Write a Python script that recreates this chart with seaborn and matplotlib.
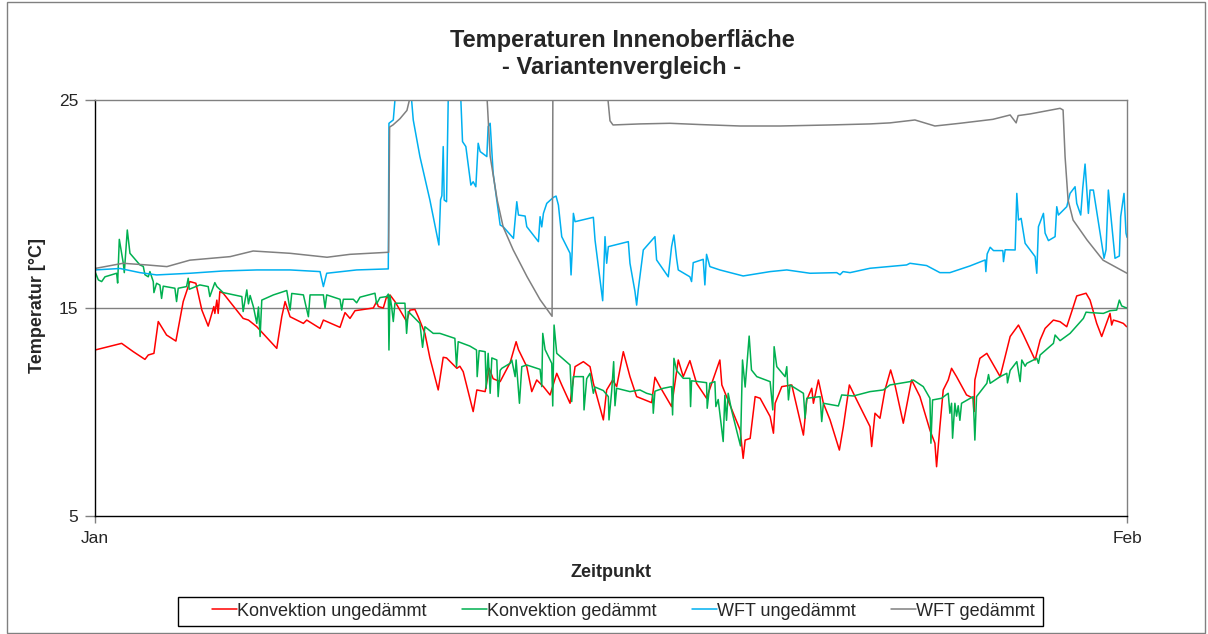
import matplotlib
matplotlib.use("Agg")
import matplotlib.pyplot as plt
import seaborn as sns
import pandas as pd
from matplotlib.lines import Line2D
from matplotlib.patches import Rectangle

# ---------------- data (days since 1 Jan, temperature in °C) ----------------
series_names = ["Konvektion ungedämmt", "Konvektion gedämmt", "WFT ungedämmt", "WFT gedämmt"]
series_colors = ["#FF0000", "#00B050", "#00B0F0", "#808080"]
x_tick_pos = [0, 31]
x_tick_labels = ["Jan", "Feb"]
y_ticks = [5, 15, 25]

tage_rot = [0.00, 0.80, 1.15, 1.50, 1.60, 1.77, 1.90, 2.15, 2.43, 2.65, 2.85, 3.03, 3.21, 3.40, 3.57, 3.60,
            3.66, 3.70, 3.75, 3.85, 4.45, 4.61, 4.86, 5.46, 5.61, 5.71, 5.86, 6.26, 6.36, 6.76, 6.86, 7.36,
            7.51, 7.66, 7.81, 8.36, 8.46, 8.51, 8.66, 8.76, 8.81, 8.86, 9.01, 9.36, 9.46, 9.61, 9.71, 9.91,
            10.06, 10.31, 10.46, 10.56, 10.87, 10.96, 11.06, 11.36, 11.47, 11.72, 11.84, 11.96, 12.17, 12.47,
            12.65, 12.72, 12.97, 13.12, 13.27, 13.47, 13.67, 13.87, 14.02, 14.27, 14.42, 14.67, 14.87, 14.97,
            15.27, 15.37, 15.55, 15.67, 15.87, 16.07, 16.27, 16.72, 16.82, 16.97, 17.32, 17.52, 17.67, 17.87,
            18.07, 18.37, 18.77, 18.83, 19.38, 19.47, 19.53, 19.68, 19.83, 19.98, 20.28, 20.38, 20.43, 20.63,
            20.93, 21.28, 21.38, 21.53, 21.58, 21.73, 21.88, 22.08, 22.36, 22.48, 22.66, 22.88, 23.28, 23.33,
            23.43, 23.58, 23.73, 23.90, 24.03, 24.28, 24.53, 24.78, 25.08, 25.23, 25.28, 25.38, 25.48, 25.63,
            25.73, 25.88, 26.18, 26.38, 26.40, 26.43, 26.58, 26.79, 27.19, 27.49, 27.74, 27.89, 28.24, 28.39,
            28.54, 28.79, 28.99, 29.19, 29.34, 29.49, 29.77, 29.89, 30.09, 30.24, 30.49, 30.54, 30.59, 30.74,
            30.89, 30.99]
temp_rot = [12.98, 13.30, 12.90, 12.53, 12.74, 12.82, 14.35, 13.70, 13.41, 15.31, 16.27, 16.19, 14.90, 14.13, 15.07, 14.74,
            15.38, 14.74, 15.79, 15.71, 14.50, 14.42, 14.10, 13.06, 14.58, 15.31, 14.58, 14.26, 14.42, 14.02, 14.42, 14.07,
            14.78, 14.50, 14.87, 15.00, 15.31, 15.07, 15.00, 15.55, 15.47, 15.63, 15.31, 14.35, 14.90, 14.93, 14.58, 13.78,
            12.60, 11.06, 12.63, 12.60, 12.10, 12.20, 11.94, 10.02, 11.06, 10.98, 12.10, 11.60, 11.46, 12.37,
            13.38, 13.00, 12.18, 10.98, 11.54, 11.22, 10.82, 11.86, 11.30, 10.42, 12.18, 12.42, 12.18, 11.38,
            9.62, 11.06, 11.54, 11.22, 12.90, 11.70, 10.74, 10.45, 11.67, 11.22, 10.26, 12.50, 11.70, 12.47,
            11.38, 10.66, 12.50, 11.30, 9.13, 7.77, 8.65, 8.73, 10.74, 10.66, 9.78, 8.98, 10.42, 11.22,
            11.30, 8.89, 10.58, 11.14, 10.42, 11.54, 10.42, 9.62, 8.17, 9.30, 11.30, 10.58, 9.30, 8.34,
            9.94, 9.70, 11.06, 12.02, 11.30, 9.46, 11.54, 10.74, 9.13, 8.50, 7.37, 9.30, 11.06, 11.54,
            12.10, 11.70, 10.82, 10.66, 10.02, 11.54, 12.58, 12.82, 11.70, 13.63, 14.18, 13.70, 12.50, 13.46,
            14.02, 14.42, 14.34, 14.10, 14.83, 15.58, 15.71, 15.38, 14.26, 13.63, 14.74, 14.18, 14.42, 14.35,
            14.26, 14.10]

tage_gruen = [0.00, 0.10, 0.20, 0.30, 0.65, 0.68, 0.73, 0.85, 0.88, 0.97, 1.05, 1.35, 1.45, 1.50, 1.60, 1.65,
              1.75, 1.77, 1.85, 1.95, 2.00, 2.05, 2.40, 2.45, 2.50, 2.75, 2.80, 2.83, 3.15, 3.40, 3.45, 3.60,
              3.66, 3.85, 4.41, 4.45, 4.56, 4.61, 4.66, 4.76, 4.86, 4.91, 4.96, 5.01, 5.36, 5.76, 5.86, 5.91,
              6.26, 6.41, 6.46, 6.86, 6.91, 6.96, 7.36, 7.41, 7.46, 7.76, 7.86, 7.96, 8.41, 8.46, 8.56, 8.76,
              8.81, 8.83, 8.86, 8.91, 8.96, 9.01, 9.31, 9.36, 9.41, 9.76, 9.84, 9.91, 10.16, 10.36, 10.81, 10.86,
              10.91, 11.26, 11.46, 11.48, 11.54, 11.72, 11.75, 11.81, 11.87, 11.92, 12.07, 12.11, 12.17, 12.22,
              12.47, 12.52, 12.62, 12.65, 12.75, 12.82, 12.97, 13.37, 13.42, 13.45, 13.52, 13.72, 13.75, 13.79,
              13.87, 14.27, 14.32, 14.37, 14.67, 14.69, 14.77, 14.87, 14.97, 15.02, 15.27, 15.42, 15.44, 15.52,
              15.58, 15.62, 15.67, 16.07, 16.37, 16.57, 16.75, 16.77, 16.82, 17.07, 17.32, 17.35, 17.39, 17.47,
              17.67, 17.87, 17.89, 17.92, 18.37, 18.39, 18.47, 18.62, 18.65, 18.72, 18.87, 18.92, 18.97, 19.02,
              19.12, 19.39, 19.45, 19.53, 19.65, 19.72, 19.88, 20.28, 20.36, 20.40, 20.48, 20.73, 20.78, 20.83,
              20.88, 21.28, 21.33, 21.38, 21.78, 21.83, 21.88, 22.33, 22.43, 22.78, 23.28, 23.68, 23.88, 24.48,
              24.58, 24.88, 25.08, 25.11, 25.16, 25.43, 25.63, 25.68, 25.73, 25.76, 25.83, 25.88, 25.93, 25.98,
              26.03, 26.38, 26.43, 26.48, 26.79, 26.84, 26.89, 27.19, 27.39, 27.41, 27.49, 27.69, 27.79, 27.84,
              27.94, 27.99, 28.29, 28.34, 28.39, 28.79, 28.84, 28.99, 29.29, 29.69, 29.77, 29.89, 30.29, 30.49,
              30.69, 30.77, 30.84, 30.94, 31.00]
temp_gruen = [16.75, 16.35, 16.27, 16.50, 16.67, 16.20, 18.30, 17.15, 16.70, 18.75, 17.63, 17.07, 17.00, 16.60, 16.50, 16.75,
              16.27, 15.74, 16.19, 16.10, 15.46, 16.05, 15.95, 15.31, 15.95, 16.03, 16.43, 15.90, 16.11, 16.03, 15.55, 16.22,
              16.03, 15.74, 15.55, 14.83, 15.87, 15.20, 15.60, 15.05, 14.26, 15.05, 13.63, 15.38, 15.63, 15.84, 14.90, 15.70,
              15.63, 14.58, 15.63, 15.63, 14.99, 15.63, 15.42, 14.90, 15.42, 15.42, 15.25, 15.52, 15.71, 15.20, 15.50, 15.55,
              15.67, 12.98, 15.60, 15.07, 14.35, 15.23, 15.23, 13.78, 14.83, 14.26, 13.11, 14.10, 13.78, 13.78, 13.54, 12.18,
              13.38, 13.17, 12.98, 11.70, 12.95, 12.90, 11.14, 12.82, 10.90, 12.60, 12.50, 10.74, 12.00, 12.10,
              12.34, 12.50, 11.70, 12.50, 10.42, 12.18, 12.26, 12.05, 11.22, 13.78, 13.00, 12.34, 10.29, 14.18,
              12.82, 12.26, 10.50, 11.70, 11.70, 10.10, 11.60, 11.86, 10.90, 11.20, 11.03, 10.74, 9.62, 11.00,
              12.42, 10.30, 11.14, 10.98, 11.06, 10.90, 10.82, 9.94, 11.00, 11.14, 11.22, 9.86, 12.58, 12.00,
              11.62, 11.62, 10.26, 11.50, 11.41, 10.18, 11.38, 11.46, 10.26, 10.60, 8.58, 10.80, 9.60, 10.90,
              10.10, 8.37, 12.50, 11.20, 13.65, 12.02, 11.70, 11.46, 10.10, 13.14, 12.18, 11.70, 12.18, 10.58,
              11.30, 10.90, 9.70, 10.66, 10.74, 9.54, 10.42, 10.29, 10.82, 10.77, 10.98, 11.06, 11.30, 11.46,
              11.54, 11.22, 10.66, 8.50, 10.58, 10.66, 10.90, 9.94, 10.42, 8.74, 10.42, 9.80, 10.30, 9.60,
              10.42, 10.74, 8.65, 10.74, 11.38, 11.80, 11.38, 11.70, 11.86, 11.40, 12.00, 12.42, 11.46, 12.50,
              12.20, 12.34, 12.58, 12.34, 12.74, 13.30, 13.70, 13.43, 13.78, 14.50, 14.80, 14.78, 14.74, 14.87,
              14.90, 15.38, 15.10, 15.03, 15.00]

tage_blau = [0.00, 0.75, 1.35, 1.85, 2.85, 3.85, 4.86, 5.86, 6.76, 6.86, 6.96, 7.86, 8.81, 8.83, 8.96, 9.01,
             9.16, 9.31, 9.51, 9.56, 9.76, 10.06, 10.33, 10.38, 10.42, 10.46, 10.49, 10.56, 10.61, 10.72, 10.90, 10.99,
             11.04, 11.14, 11.29, 11.36, 11.44, 11.51, 11.57, 11.77, 11.81, 11.87, 11.96, 12.17, 12.26, 12.57, 12.67, 12.72,
             12.92, 12.97, 13.32, 13.37, 13.42, 13.47, 13.57, 13.77, 13.85, 13.92, 14.02, 14.27, 14.30, 14.33, 14.37, 14.42,
             14.97, 15.02, 15.25, 15.32, 15.37, 15.42, 16.02, 16.07, 16.22, 16.27, 16.32, 16.47, 16.82, 16.87, 17.22, 17.32,
             17.39, 17.47, 17.52, 17.87, 17.92, 17.97, 18.27, 18.32, 18.37, 18.47, 18.77, 19.47, 20.28, 20.78, 21.48, 22.28,
             22.38, 22.47, 22.68, 23.28, 24.38, 24.48, 24.98, 25.38, 25.68, 26.28, 26.74, 26.76, 26.80, 26.89, 26.99, 27.27,
             27.29, 27.34, 27.64, 27.69, 27.74, 27.82, 27.94, 28.24, 28.29, 28.34, 28.49, 28.54, 28.64, 28.84, 28.89, 28.94,
             29.19, 29.29, 29.44, 29.49, 29.61, 29.67, 29.74, 29.79, 29.84, 29.89, 29.99, 30.24, 30.31, 30.37, 30.44, 30.64,
             30.77, 30.81, 30.91, 30.97, 31.00]
temp_blau = [16.83, 16.90, 16.70, 16.59, 16.67, 16.78, 16.83, 16.83, 16.75, 16.03, 16.67, 16.83, 16.88, 23.88, 24.04, 25.00,
             26.50, 27.00, 25.00, 24.04, 22.28, 20.19, 18.03, 20.20, 20.40, 22.76, 20.19, 20.11, 25.00, 27.00, 27.00, 25.00,
             23.00, 22.76, 20.91, 21.07, 20.83, 22.92, 22.52, 22.28, 23.72, 23.88, 21.48, 18.99, 18.91, 18.35, 20.11, 19.47,
             19.42, 18.91, 18.19, 19.39, 18.90, 19.55, 20.03, 20.32, 20.38, 19.95, 18.43, 17.63, 16.59, 17.60, 19.55, 19.15,
             19.36, 18.27, 15.35, 18.43, 17.15, 17.95, 18.19, 17.15, 15.79, 15.14, 15.90, 17.79, 18.43, 17.31, 16.50, 17.95,
             18.51, 17.39, 16.83, 16.50, 16.27, 17.18, 17.34, 16.11, 17.58, 16.99, 16.83, 16.54, 16.75, 16.83, 16.67, 16.70,
             16.60, 16.75, 16.70, 16.91, 17.07, 17.15, 17.04, 16.70, 16.70, 17.02, 17.31, 16.75, 17.60, 17.92, 17.76, 17.76,
             17.23, 17.80, 17.79, 20.51, 19.23, 19.31, 18.11, 17.47, 16.67, 18.91, 19.55, 18.60, 18.24, 18.43, 19.87, 19.47,
             19.87, 20.51, 20.83, 20.03, 19.47, 20.75, 21.92, 20.75, 19.55, 20.67, 20.67, 18.11, 17.39, 17.80, 20.67, 17.39,
             17.50, 19.39, 20.51, 18.60, 18.40]

tage_grau = [0.00, 0.84, 1.56, 2.16, 2.85, 4.06, 4.75, 5.86, 6.97, 7.66, 8.82, 8.85, 8.95, 9.16, 9.37, 9.52,
             10.06, 11.26, 11.72, 11.78, 11.87, 12.08, 12.26, 12.56, 12.98, 13.37, 13.73, 13.76, 15.17, 15.38, 15.47, 15.56,
             16.37, 17.27, 18.17, 19.38, 20.58, 22.08, 23.28, 23.88, 24.63, 25.23, 25.98, 26.97, 27.49, 27.67, 27.73, 28.09,
             28.99, 29.08, 29.14, 29.23, 29.38, 29.80, 30.28, 31.00]
temp_grau = [16.90, 17.15, 17.07, 16.99, 17.30, 17.47, 17.74, 17.63, 17.44, 17.58, 17.68, 23.70, 23.80, 24.10, 24.50, 25.50,
             26.50, 27.00, 27.50, 25.00, 22.30, 20.20, 18.90, 17.80, 16.50, 15.40, 14.60, 28.00, 28.00, 25.50, 24.00, 23.80,
             23.85, 23.88, 23.82, 23.75, 23.75, 23.80, 23.85, 23.90, 24.04, 23.75, 23.88, 24.07, 24.28, 23.90, 24.25, 24.33,
             24.60, 24.52, 22.27, 20.19, 19.23, 18.27, 17.30, 16.67]

# ---------------- long-form table ----------------
frames = []
for name, t, v in zip(series_names,
                      [tage_rot, tage_gruen, tage_blau, tage_grau],
                      [temp_rot, temp_gruen, temp_blau, temp_grau]):
    frames.append(pd.DataFrame({"Tag": t, "Temperatur": v, "Serie": name}))
df = pd.concat(frames, ignore_index=True)

# ---------------- plot ----------------
sns.set_theme(style="white")
plt.rcParams["font.family"] = ["Liberation Sans", "DejaVu Sans"]

W, H = 1208, 634
fig = plt.figure(figsize=(W / 100, H / 100), dpi=100)
ax = fig.add_axes([95 / W, 1 - 516 / H, (1127 - 95) / W, (516 - 100) / H])

palette = dict(zip(series_names, series_colors))
sns.lineplot(data=df, x="Tag", y="Temperatur", hue="Serie", hue_order=series_names,
             palette=palette, sort=False, estimator=None, linewidth=1.1,
             legend=False, ax=ax)

ax.set_xlim(0, 31)
ax.set_ylim(5, 25)
ax.set_yticks(y_ticks)
ax.set_yticklabels([str(v) for v in y_ticks], fontsize=12.5)
ax.set_xticks(x_tick_pos)
ax.set_xticklabels(x_tick_labels, fontsize=12.5)
ax.tick_params(axis="y", length=7, width=1, color="#808080", pad=5, direction="out", left=True)
ax.tick_params(axis="x", length=5, width=1, color="#808080", pad=6, direction="out", bottom=True)

# horizontal gridline at 15 (25 is the top border)
ax.axhline(15, color="#808080", linewidth=1.0, zorder=0.5)

for side in ["left", "bottom"]:
    ax.spines[side].set_color("black")
    ax.spines[side].set_linewidth(1.0)
for side in ["top", "right"]:
    ax.spines[side].set_color("#808080")
    ax.spines[side].set_linewidth(1.0)
    ax.spines[side].set_visible(True)

ax.set_xlabel("Zeitpunkt", fontsize=13, fontweight="bold")
ax.xaxis.set_label_coords(0.5, -0.115)
ax.set_ylabel("Temperatur [°C]", fontsize=13, fontweight="bold")
ax.yaxis.set_label_coords(-0.047, 0.505)

fig.text(622 / W, 1 - 54 / H, "Temperaturen Innenoberfläche\n- Variantenvergleich -",
         ha="center", va="center", fontsize=17, fontweight="bold", linespacing=1.2)

# legend (entries placed to start at the reference position, frame drawn separately)
handles = [Line2D([0], [0], color=c, linewidth=1.1) for c in series_colors]
leg = fig.legend(handles, series_names, loc="center left", bbox_to_anchor=(212 / W, 1 - 611 / H),
                 ncol=4, frameon=False, fontsize=13, borderpad=0.0, borderaxespad=0.0,
                 handlelength=1.4, handletextpad=0.0, columnspacing=1.95)
fig.patches.append(Rectangle((178 / W, 1 - 626 / H), (1043 - 178) / W, (626 - 597) / H,
                             transform=fig.transFigure, fill=False,
                             edgecolor="black", linewidth=1.0))

# outer chart border
fig.patches.append(Rectangle((7 / W, 1 / H), (1205 - 7) / W, (632 - 1) / H,
                             transform=fig.transFigure, fill=False,
                             edgecolor="#808080", linewidth=1.0))

fig.savefig("out.png", dpi=100)
